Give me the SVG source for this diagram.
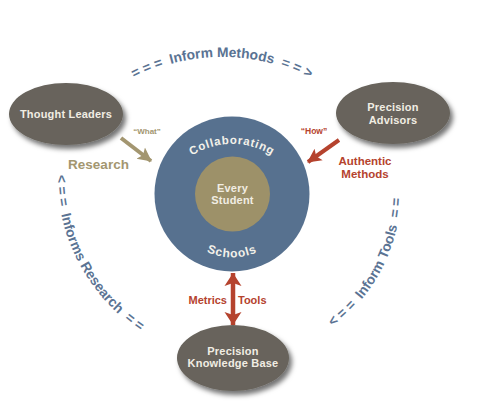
<svg xmlns="http://www.w3.org/2000/svg" xmlns:xlink="http://www.w3.org/1999/xlink" width="480" height="403" viewBox="0 0 480 403">
<style>
text{font-family:"Liberation Sans",Arial,sans-serif;font-weight:bold}
.node{fill:#67635b;filter:url(#sh)}
.nt{fill:#f1ede3;font-size:11px;text-anchor:middle;letter-spacing:0.2px}
.ring{fill:#57718f}
.core{fill:#9d9169}
.rt{fill:#f3f1ea;font-size:11.5px;letter-spacing:0.8px}
.blue{fill:#5a7393;font-size:13.8px}
.red{fill:#b5432e}
.tan{fill:#a39670}
.lt{font-size:11.5px;text-anchor:middle}
</style>
<defs>
<filter id="sh" x="-20%" y="-20%" width="150%" height="160%">
<feDropShadow dx="3" dy="4" stdDeviation="2.4" flood-color="#000" flood-opacity="0.55"/>
</filter>
<marker id="ahR" markerUnits="userSpaceOnUse" markerWidth="16" markerHeight="16" refX="13" refY="8" orient="auto">
<path d="M0,1 L14,8 L0,15 L3,8 Z" fill="#b5432e"/>
</marker>
<marker id="ahT" markerUnits="userSpaceOnUse" markerWidth="16" markerHeight="16" refX="13" refY="8" orient="auto">
<path d="M0,1 L14,8 L0,15 L3,8 Z" fill="#a39670"/>
</marker>
<marker id="ahV" markerUnits="userSpaceOnUse" markerWidth="18" markerHeight="18" refX="13" refY="9" orient="auto-start-reverse">
<path d="M0,0.5 L13,9 L0,17.5 L3,9 Z" fill="#b5432e"/>
</marker>
<path id="pTop" d="M55.7,153 A192,192 0 0,1 388.3,153"/>
<path id="pLeft" d="M57,175 A188,188 0 0,0 245,363"/>
<path id="pRight" d="M332.9,326.6 A171,171 0 0,0 390.7,131.5"/>
<path id="pColl" d="M167,181.5 A75,75 0 0,1 297,181.5"/>
<path id="pSch" d="M179.2,227 A61,61 0 0,0 284.8,227"/>
</defs>

<g id="connectors">
<line x1="121" y1="138" x2="151" y2="161" stroke="#a39670" stroke-width="4" marker-end="url(#ahT)"/>
<line x1="339" y1="140" x2="308" y2="162" stroke="#b5432e" stroke-width="4" marker-end="url(#ahR)"/>
<line x1="233" y1="273" x2="233" y2="325" stroke="#b5432e" stroke-width="4.5" marker-start="url(#ahV)" marker-end="url(#ahV)"/>
</g>

<g id="schools">
<circle class="ring" cx="232" cy="194" r="77.5"/>
<text class="rt"><textPath xlink:href="#pColl" href="#pColl" startOffset="50%" text-anchor="middle">Collaborating</textPath></text>
<text class="rt" style="font-size:12px"><textPath xlink:href="#pSch" href="#pSch" startOffset="50%" text-anchor="middle">Schools</textPath></text>
</g>

<g id="every-student">
<circle class="core" cx="232.5" cy="194" r="37.5"/>
<text class="nt" x="232.5" y="191.5">Every</text>
<text class="nt" x="232.5" y="204">Student</text>
</g>

<g id="thought-leaders">
<ellipse class="node" cx="66" cy="114" rx="57" ry="31"/>
<text class="nt" x="66" y="117.5">Thought Leaders</text>
</g>

<g id="precision-advisors">
<ellipse class="node" cx="393" cy="113" rx="57" ry="31"/>
<text class="nt" x="393" y="110.5">Precision</text>
<text class="nt" x="393" y="123.5">Advisors</text>
</g>

<g id="knowledge-base">
<ellipse class="node" cx="233" cy="358" rx="56" ry="33"/>
<text class="nt" x="233" y="354.5">Precision</text>
<text class="nt" x="233" y="366.5">Knowledge Base</text>
</g>

<g id="labels">
<text class="tan" x="147" y="134" style="font-size:8px;text-anchor:middle">“What”</text>
<text class="tan" x="98.5" y="169" style="font-size:13.5px;text-anchor:middle">Research</text>
<text class="red" x="314" y="134" style="font-size:8.5px;text-anchor:middle">“How”</text>
<text class="red lt" x="365" y="165">Authentic</text>
<text class="red lt" x="365" y="178">Methods</text>
<text class="red" x="227" y="304" style="font-size:11px;text-anchor:end">Metrics</text>
<text class="red" x="238" y="304" style="font-size:11px">Tools</text>
<text class="blue"><textPath xlink:href="#pTop" href="#pTop" startOffset="50%" text-anchor="middle" xml:space="preserve">= = =  Inform Methods  = = &gt;</textPath></text>
<text class="blue"><textPath xlink:href="#pLeft" href="#pLeft" startOffset="0" xml:space="preserve">&lt; = =  Informs Research  = =</textPath></text>
<text class="blue"><textPath xlink:href="#pRight" href="#pRight" startOffset="0" xml:space="preserve">&lt; = =  Inform Tools  = =</textPath></text>
</g>
</svg>
